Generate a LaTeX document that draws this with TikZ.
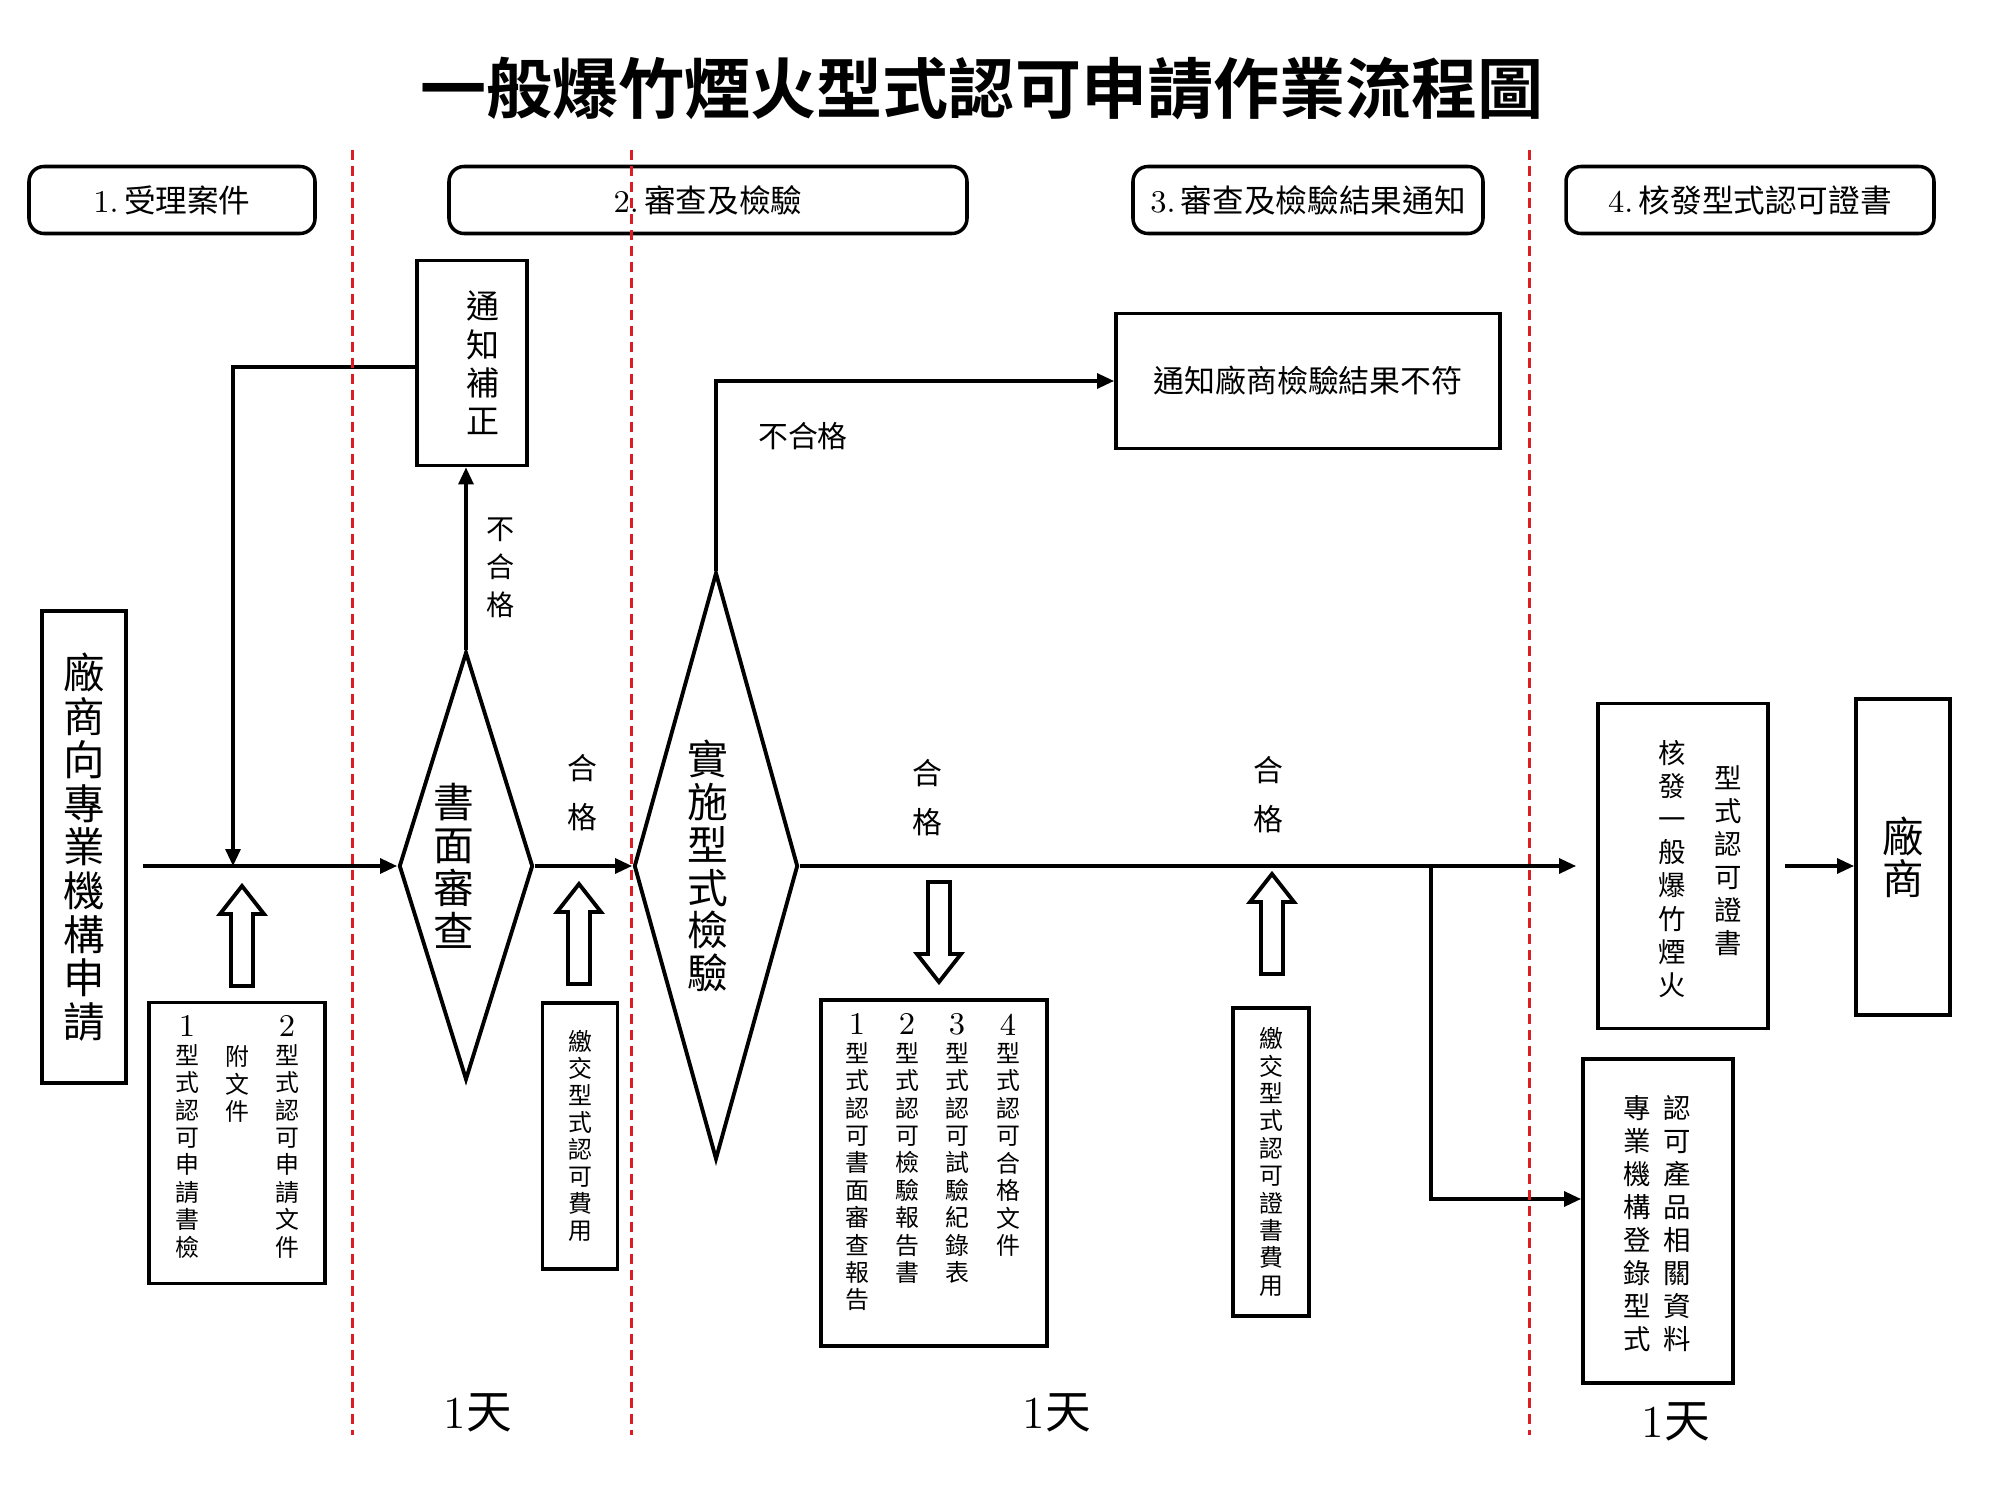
\documentclass[tikz,border=0pt]{standalone}
\usepackage{fontspec}
\newfontfamily\cjk{Noto Sans CJK TC}
\newfontfamily\cjkb{Noto Sans CJK TC Bold}
\usetikzlibrary{arrows.meta,positioning,shapes.geometric}
\definecolor{lanered}{RGB}{218,30,36}
\newcommand{\dnum}[1]{{\rmfamily\fontsize{9pt}{9pt}\selectfont #1}}

\tikzset{
  box/.style={draw, line width=1.1pt, inner sep=0pt, align=center},
  headbox/.style={draw, line width=1pt, rounded corners=1.5mm, minimum height=6.7mm, font=\fontsize{9pt}{10pt}\selectfont},
  check/.style={draw, diamond, line width=1.1pt, inner sep=0pt},
  flow/.style={line width=0.9pt, -{Triangle[length=1.7mm,width=1.5mm]}},
  lane/.style={draw=lanered, line width=0.3mm, dash pattern=on 1mm off 0.6mm},
  bigtxt/.style={align=center, inner sep=0pt, font=\cjk\fontsize{11.6pt}{12.2pt}\selectfont},
  nogo/.style={align=center, inner sep=0pt, font=\cjk\fontsize{8pt}{10.8pt}\selectfont},
  passtxt/.style={align=center, inner sep=0pt, font=\cjk\fontsize{8.5pt}{13.9pt}\selectfont},
  doctxt/.style={anchor=north, align=center, inner sep=0pt, font=\cjk\fontsize{6.8pt}{7.8pt}\selectfont},
  certtxt/.style={anchor=north, align=center, inner sep=0pt, font=\cjk\fontsize{7.8pt}{9.4pt}\selectfont},
  daytxt/.style={inner sep=0pt, font=\fontsize{13pt}{14pt}\selectfont},
  blockup/.pic={\draw[line width=1.1pt, fill=white] (0,0) -- (22,28) -- (11,28) -- (11,100) -- (-11,100) -- (-11,28) -- (-22,28) -- cycle;}
}

\begin{document}
\begin{tikzpicture}[x=0.1mm,y=-0.1mm]
  \fill[white] (0,0) rectangle (2000,1500);
  \useasboundingbox (0,0) rectangle (2000,1500);
  % title and stages
  \node[font=\cjkb\fontsize{18.8pt}{20pt}\selectfont] (title) at (982,89) {一般爆竹煙火型式認可申請作業流程圖};
  \node[headbox, minimum width=28.6mm] (stage1) at (172,200) {1.\,{\cjk 受理案件}};
  \node[headbox, minimum width=51.8mm] (stage2) at (708,200) {2.\,{\cjk 審查及檢驗}};
  \node[headbox, minimum width=35mm] (stage3) at (1308,200) {3.\,{\cjk 審查及檢驗結果通知}};
  \node[headbox, minimum width=36.8mm] (stage4) at (1750,200) {4.\,{\cjk 核發型式認可證書}};

  % Define nodes
  \node[box, minimum width=8.4mm, minimum height=47.2mm, font=\cjk\fontsize{11.8pt}{12.4pt}\selectfont] (apply) at (84,847) {廠\\商\\向\\專\\業\\機\\構\\申\\請};
  \node[check, minimum width=13.4mm, minimum height=42.8mm] (paper) at (466,866) {};
  \node[bigtxt, xshift=-1.2mm] (papertxt) at (paper) {書\\面\\審\\查};
  \node[box, minimum width=11mm, minimum height=20.5mm] (fix) at (472,363) {};
  \node[align=center, inner sep=0pt, xshift=1.1mm, font=\cjk\fontsize{9.4pt}{10.9pt}\selectfont] (fixtxt) at (fix) {通\\知\\補\\正};
  \node[check, minimum width=16.4mm, minimum height=58.7mm] (test) at (716,866) {};
  \node[bigtxt, xshift=-0.8mm] (testtxt) at (test) {實\\施\\型\\式\\檢\\驗};
  \node[box, minimum width=38.4mm, minimum height=13.5mm, font=\cjk\fontsize{8.8pt}{10pt}\selectfont] (notify) at (1308,381) {通知廠商檢驗結果不符};
  \node[box, minimum width=17mm, minimum height=32.5mm] (issue) at (1683,866) {};
  \node[certtxt] (issuea) at (1672,740) {核\\發\\一\\般\\爆\\竹\\煙\\火};
  \node[certtxt] (issueb) at (1728,765) {型\\式\\認\\可\\證\\書};
  \node[box, minimum width=9.4mm, minimum height=31.6mm, font=\cjk\fontsize{11.8pt}{12pt}\selectfont] (vendor) at (1903,857) {廠\\商};
  \node[box, minimum width=15mm, minimum height=32.4mm] (reg) at (1658,1221) {};
  \node[certtxt] (rega) at (1637,1095) {專\\業\\機\\構\\登\\錄\\型\\式};
  \node[certtxt] (regb) at (1677,1095) {認\\可\\產\\品\\相\\關\\資\\料};

  % documents and fees
  \node[box, minimum width=17.6mm, minimum height=28.1mm] (docs1) at (237,1143) {};
  \node[doctxt] (docs1a) at (187,1015) {\dnum{1}\\型\\式\\認\\可\\申\\請\\書\\檢};
  \node[doctxt] (docs1b) at (237,1045) {附\\文\\件};
  \node[doctxt] (docs1c) at (287,1015) {\dnum{2}\\型\\式\\認\\可\\申\\請\\文\\件};
  \node[box, minimum width=7.5mm, minimum height=26.6mm, font=\cjk\fontsize{6.8pt}{7.7pt}\selectfont] (fee1) at (580,1136) {繳\\交\\型\\式\\認\\可\\費\\用};
  \node[box, minimum width=22.6mm, minimum height=34.6mm] (docs2) at (934,1173) {};
  \node[doctxt] (docs2a) at (857,1013) {\dnum{1}\\型\\式\\認\\可\\書\\面\\審\\查\\報\\告};
  \node[doctxt] (docs2b) at (907,1013) {\dnum{2}\\型\\式\\認\\可\\檢\\驗\\報\\告\\書};
  \node[doctxt] (docs2c) at (957,1013) {\dnum{3}\\型\\式\\認\\可\\試\\驗\\紀\\錄\\表};
  \node[doctxt] (docs2d) at (1008,1013) {\dnum{4}\\型\\式\\認\\可\\合\\格\\文\\件};
  \node[box, minimum width=7.6mm, minimum height=30.8mm, font=\cjk\fontsize{6.8pt}{7.8pt}\selectfont] (fee2) at (1271,1162) {繳\\交\\型\\式\\認\\可\\證\\書\\費\\用};

  % labels
  \node[nogo] (fail1) at (501,568) {不\\合\\格};
  \node[inner sep=0pt, font=\cjk\fontsize{8.5pt}{10pt}\selectfont] (fail2) at (803,436) {不合格};
  \node[passtxt] (pass1) at (582,793) {合\\格};
  \node[passtxt] (pass2) at (927,798) {合\\格};
  \node[passtxt] (pass3) at (1268,795) {合\\格};
  \node[daytxt] (day1) at (478,1413) {1{\cjk 天}};
  \node[daytxt] (day2) at (1057,1413) {1{\cjk 天}};
  \node[daytxt] (day3) at (1676,1422) {1{\cjk 天}};

  % connectors
  \coordinate (start) at (143,866);
  \coordinate (merge) at (233,866);
  \coordinate (split) at (1431,866);
  \draw[flow] (start) -- (paper.west);
  \draw[flow] (paper.north) -- (paper.north |- fix.south);
  \draw[flow] ([yshift=-0.4mm]fix.west) -| (merge);
  \draw[flow] (paper.east) -- (test.west);
  \draw[flow] (test.north) |- (notify.west);
  \draw[flow, shorten >=2mm] (test.east) -- (issue.west);
  \draw[flow] (split) |- ([yshift=2.2mm]reg.west);
  \draw[flow, shorten <=1.5mm] (issue.east) -- (issue.east -| vendor.west);

  % hollow arrows
  \pic at (242,886) {blockup};
  \pic at (579,884) {blockup};
  \pic[rotate=180] at (939,982) {blockup};
  \pic at (1272,874) {blockup};

  % stage borders
  \draw[lane] (352,150) -- (352,1435);
  \draw[lane] (631,150) -- (631,1435);
  \draw[lane] (1529,150) -- (1529,1435);
\end{tikzpicture}
\end{document}
